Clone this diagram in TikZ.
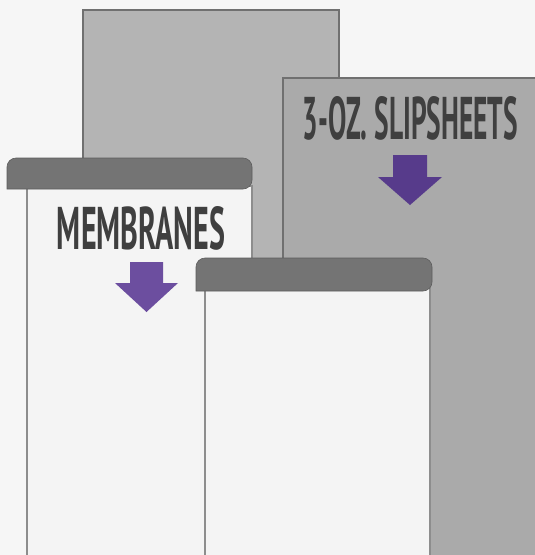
\documentclass[tikz,border=0pt]{standalone}
\usepackage{fontspec}
\setmainfont{PT Sans}
\usepackage{graphicx}
\usepackage{xcolor}
\usepackage{tikz}
\definecolor{SLBack}{HTML}{F6F6F6}
\definecolor{SLSheet}{HTML}{B4B4B4}
\definecolor{SLSheetB}{HTML}{AAAAAA}
\definecolor{SLEdge}{HTML}{707070}
\definecolor{SLMem}{HTML}{F4F4F4}
\definecolor{SLCap}{HTML}{747474}
\definecolor{SLText}{HTML}{3F3F3F}
\definecolor{SLPurpleA}{HTML}{6C4E9F}
\definecolor{SLPurpleB}{HTML}{573B8B}

\begin{document}
\begin{tikzpicture}[
    x=1pt,y=-1pt,
    sheet/.style={fill=SLSheet, draw=SLEdge, line width=1.2pt},
    membrane/.style={fill=SLMem, draw=SLEdge!80, line width=2pt},
    tabcap/.style={fill=SLCap, draw=SLCap!80!black, line width=0.6pt, rounded corners=9pt},
    bigtext/.style={inner sep=0pt, text=SLText, font=\bfseries},
    downarrow/.style={line join=miter}
  ]
    \fill[SLBack] (0,0) rectangle (535,555);
    \useasboundingbox (0,0) rectangle (535,555);

    % slipsheets behind
    \draw[sheet] (83,10) rectangle (339,560);
    \draw[sheet, fill=SLSheetB] (283,78) rectangle (545,560);

    % first membrane
    \draw[membrane] (27,186) rectangle (252,560);
    \draw[tabcap] (7,189) -- (7,158) -- (252,158) -- (252,189) [sharp corners] -- cycle;
    \node[bigtext] (memtext) at (141,228.5) {\resizebox{168pt}{43pt}{MEMBRANES}};
    \fill[SLPurpleA, downarrow] (130,262) -- (163,262) -- (163,283) -- (178,283)
      -- (146.5,312) -- (115,283) -- (130,283) -- cycle;

    % second membrane
    \draw[membrane] (205,288) rectangle (430,560);
    \draw[tabcap] (196,291) -- (196,258) -- (432,258) -- (432,291) [sharp corners] -- cycle;

    % slipsheet label
    \node[bigtext] (sliptext) at (410.5,118.5) {\resizebox{215pt}{43pt}{3-OZ. SLIPSHEETS}};
    \fill[SLPurpleB, downarrow] (393,155) -- (427,155) -- (427,177) -- (442,177)
      -- (410,205) -- (378,177) -- (393,177) -- cycle;
\end{tikzpicture}
\end{document}
